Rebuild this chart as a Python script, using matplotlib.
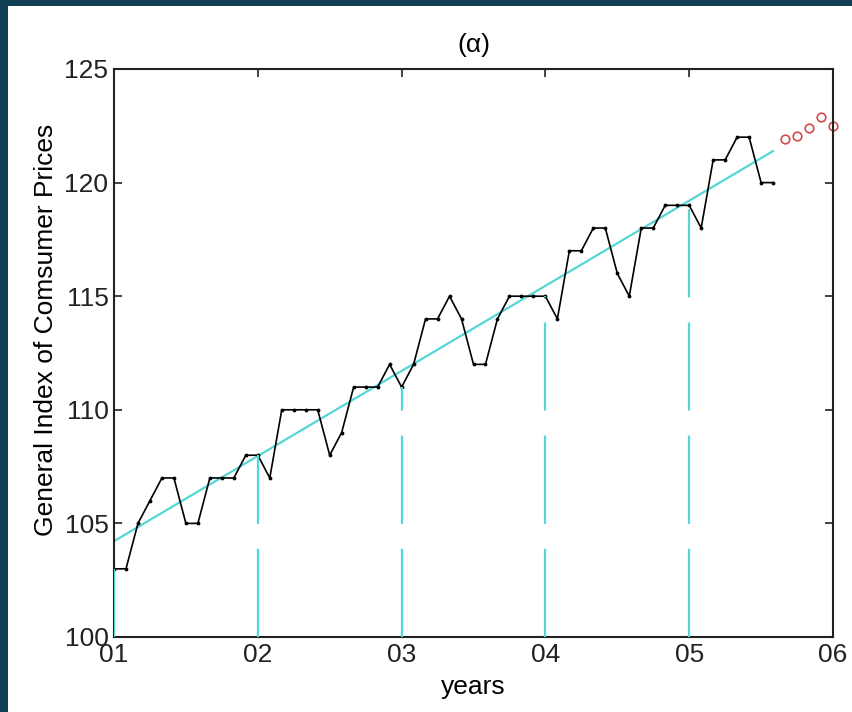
import numpy as np
import matplotlib
matplotlib.use("Agg")
import matplotlib.pyplot as plt
from matplotlib.patches import Rectangle

plt.rcParams['font.family'] = ['Liberation Sans', 'DejaVu Sans']

# monthly general index of consumer prices, Jan 2001 onward
cpi = [103, 103, 105, 106, 107, 107, 105, 105, 107, 107, 107, 108, 108,
       107, 110, 110, 110, 110, 108, 109, 111, 111, 111, 112, 111,
       112, 114, 114, 115, 114, 112, 112, 114, 115, 115, 115, 115,
       114, 117, 117, 118, 118, 116, 115, 118, 118, 119, 119, 119,
       118, 121, 121, 122, 122, 120, 120]
# forecasts for the following months
forecast = [121.9, 122.05, 122.4, 122.9, 122.5]

year_labels = ['01', '02', '03', '04', '05', '06']
y_ticks = [100, 105, 110, 115, 120, 125]

months = np.arange(len(cpi))
t = months / 12.0
t_fc = (len(cpi) + np.arange(len(forecast))) / 12.0

# least squares trend
slope, icept = np.polyfit(months, cpi, 1)
trend = icept + slope * months

cyan = '#55d6d6'

fig = plt.figure(figsize=(8.52, 7.12), dpi=100)
fig.patch.set_facecolor('#113f55')
# white page inside the dark frame
fig.patches.append(Rectangle((8 / 852, 0), 1, 1 - 6 / 712, transform=fig.transFigure,
                             facecolor='white', edgecolor='none', zorder=-10))

ax = fig.add_axes([114 / 852, 1 - 637 / 712, (833 - 114) / 852, (637 - 69) / 712])
ax.set_facecolor('white')

# dashed verticals at the start of each year
idx = [0, 12, 24, 36, 48]
lw_v = 1.6
ax.vlines([t[i] for i in idx], 100, [cpi[i] for i in idx], colors=cyan,
          linewidth=lw_v, linestyles=[(0, (63.5 / lw_v, 18 / lw_v))], zorder=3)

ax.plot(t, trend, color=cyan, linewidth=1.6)
ax.plot(t, cpi, color='black', linewidth=1.2, marker='.', markersize=3.5)
ax.plot(t_fc, forecast, linestyle='none', marker='o', markersize=6.2,
        markerfacecolor='none', markeredgecolor='#d24a4a', markeredgewidth=1.2,
        clip_on=False)

ax.set_xlim(0, 5)
ax.set_ylim(100, 125)
ax.set_xticks(range(len(year_labels)))
ax.set_xticklabels(year_labels)
ax.set_yticks(y_ticks)

ax.tick_params(direction='in', length=6, width=1.2, top=True, right=True,
               labelsize=19, pad=4, colors='#222222')
for s in ax.spines.values():
    s.set_linewidth(1.5)
    s.set_color('#222222')

ax.set_xlabel('years', fontsize=19, labelpad=6)
ax.set_ylabel('General Index of Comsumer Prices', fontsize=19)
ax.yaxis.set_label_coords(-0.078, 0.54)
ax.set_title('(α)', fontsize=19, pad=12)

fig.savefig('out.png', dpi=100, facecolor=fig.get_facecolor())
